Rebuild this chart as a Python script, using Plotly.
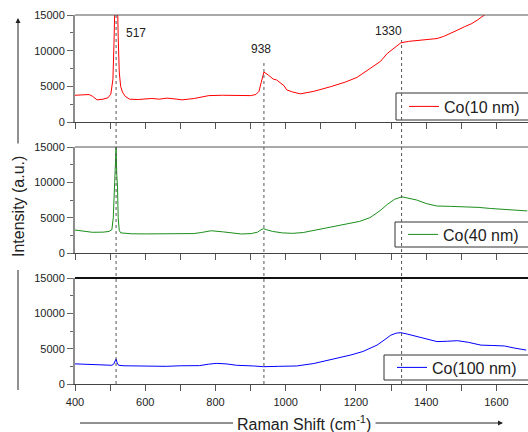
import plotly.graph_objects as go

# ---------------- data ----------------
x_10nm = [400, 420, 440, 450, 463, 480, 494, 502, 508, 511, 514, 517, 520, 523, 526, 530, 535, 543,
          555, 580, 600, 619, 640, 662, 690, 705, 740, 781, 820, 860, 900, 915, 924, 930, 938, 950,
          965, 974, 985, 995, 1003, 1020, 1042, 1080, 1128, 1170, 1203, 1242, 1270, 1289, 1310, 1328,
          1350, 1374, 1400, 1431, 1450, 1466, 1490, 1509, 1530, 1546, 1566, 1600, 1650, 1690]
y_10nm = [3750, 3800, 3850, 3600, 3100, 3200, 3400, 3900, 6000, 11000, 18000, 24000, 19000, 12000, 7000,
          5000, 4200, 3600, 3200, 3150, 3200, 3300, 3200, 3350, 3200, 3100, 3300, 3700, 3750, 3700,
          3700, 3850, 4300, 5500, 7000, 6600, 6000, 5900, 5500, 5100, 4500, 4200, 3950, 4300, 4950,
          5600, 6250, 7500, 8500, 9600, 10400, 11100, 11300, 11400, 11500, 11700, 12000, 12400, 12900,
          13350, 13800, 14300, 15000, 16200, 17300, 18200]

x_40nm = [400, 420, 449, 480, 497, 505, 509, 513, 517, 519, 521, 523, 526, 530, 540, 560, 600, 650,
          700, 738, 760, 788, 820, 850, 874, 902, 920, 930, 937, 945, 963, 990, 1020, 1050, 1077,
          1105, 1134, 1160, 1183, 1211, 1240, 1269, 1290, 1310, 1331, 1350, 1373, 1400, 1430, 1470,
          1516, 1550, 1583, 1620, 1650, 1688]
y_40nm = [3250, 3150, 2930, 2950, 3050, 3300, 5000, 10000, 15000, 11000, 9500, 5000, 3200, 2850, 2780,
          2720, 2700, 2680, 2720, 2750, 2900, 3150, 3000, 2800, 2690, 2750, 2950, 3300, 3440, 3300,
          3050, 2850, 2780, 2900, 3150, 3450, 3730, 3950, 4200, 4480, 5000, 6000, 6900, 7600, 7950,
          7750, 7500, 7000, 6650, 6600, 6550, 6450, 6300, 6150, 6050, 5950]

x_100nm = [400, 430, 460, 490, 505, 510, 514, 517, 520, 524, 540, 580, 620, 660, 700, 754, 780, 802,
           830, 860, 909, 937, 980, 1031, 1080, 1128, 1160, 1185, 1220, 1260, 1280, 1299, 1315, 1328,
           1346, 1380, 1410, 1431, 1460, 1489, 1520, 1556, 1590, 1623, 1650, 1685]
y_100nm = [2850, 2800, 2700, 2650, 2650, 2800, 3200, 3550, 3000, 2650, 2580, 2550, 2550, 2500, 2580,
           2600, 2800, 2920, 2850, 2650, 2550, 2450, 2500, 2550, 2900, 3400, 3750, 4100, 4600, 5500,
           6200, 6900, 7200, 7260, 7070, 6600, 6200, 6000, 6050, 6130, 5900, 5500, 5450, 5380, 5100,
           4800]

series_names = ["Co(10 nm)", "Co(40 nm)", "Co(100 nm)"]
series_colors = ["#ff0000", "#1a8f1a", "#0000ff"]
peak_positions = [517, 938, 1330]
peak_labels = ["517", "938", "1330"]
x_ticks = [400, 600, 800, 1000, 1200, 1400, 1600]
y_ticks = [0, 5000, 10000, 15000]

# ---------------- figure ----------------
W, H = 528, 432
ML, MR, MT, MB = 75, 0, 15, 48
PW, PH = W - ML - MR, H - MT - MB


def py(p):  # pixel y -> paper y
    return (H - MB - p) / PH


def px(p):  # pixel x -> paper x
    return (p - ML) / PW


FONT = "Liberation Sans, Arial, sans-serif"
domains = [[py(122), py(15)], [py(253), py(147)], [0.0, py(278)]]

fig = go.Figure()
xs = [x_10nm, x_40nm, x_100nm]
ys = [y_10nm, y_40nm, y_100nm]
legends = ["legend", "legend2", "legend3"]
for i in range(3):
    fig.add_trace(go.Scatter(
        x=xs[i], y=ys[i], mode="lines", name=series_names[i],
        line=dict(color=series_colors[i], width=1),
        xaxis="x" if i == 0 else f"x{i+1}",
        yaxis="y" if i == 0 else f"y{i+1}",
        legend=legends[i], showlegend=True,
    ))

layout = dict(
    width=W, height=H,
    margin=dict(l=ML, r=MR, t=MT, b=MB, autoexpand=False),
    paper_bgcolor="white", plot_bgcolor="white",
    font=dict(family=FONT, color="#222", size=11),
)

for i in range(3):
    sfx = "" if i == 0 else str(i + 1)
    layout[f"xaxis{sfx}"] = dict(
        range=[400, 1690], tickvals=x_ticks, showticklabels=(i == 2),
        ticks="outside", ticklen=6, tickcolor="#555", tickwidth=1, ticklabelstandoff=2,
        minor=dict(dtick=100, tick0=400, ticks="outside", ticklen=6, tickcolor="#555"),
        showline=True, linecolor="#444", linewidth=1.2, showgrid=False, zeroline=False,
        anchor="y" + sfx, domain=[0, 1], tickfont=dict(size=11),
    )
    layout[f"yaxis{sfx}"] = dict(
        range=[0, 15000], tickvals=y_ticks, tickformat="d", domain=domains[i],
        ticks="outside", ticklen=6, tickcolor="#666",
        minor=dict(dtick=2500, ticks="outside", ticklen=3, tickcolor="#666"),
        showline=True, linecolor="#8c8c8c", linewidth=2, showgrid=False, zeroline=False,
        anchor="x" + sfx, tickfont=dict(size=11),
    )

# legends (items) + their frames as shapes
boxes = [(396, 93, 120), (395, 222, 247), (384, 355, 380)]
for i, key in enumerate(legends):
    bx, by0, by1 = boxes[i]
    layout[key] = dict(
        x=px(bx + 8), y=py((by0 + by1) / 2), xanchor="left", yanchor="middle",
        bgcolor="rgba(0,0,0,0)", borderwidth=0,
        font=dict(size=16, family=FONT, color="#222"),
    )

fig.update_layout(**layout)

for bx, by0, by1 in boxes:
    fig.add_shape(type="rect", xref="paper", yref="paper", x0=px(bx), x1=px(540),
                  y0=py(by1), y1=py(by0), line=dict(color="#333", width=1),
                  fillcolor="rgba(0,0,0,0)")

# top borders of panels
border_styles = [("#555", 1), ("#555", 1), ("#111", 2)]
for i in range(3):
    fig.add_shape(type="line", xref="paper", yref="paper", x0=0, x1=1,
                  y0=domains[i][1], y1=domains[i][1],
                  line=dict(color=border_styles[i][0], width=border_styles[i][1]))

# dotted peak lines
line_tops = [py(15), py(60), py(40)]
for pk, top in zip(peak_positions, line_tops):
    fig.add_shape(type="line", xref="x", yref="paper", x0=pk, x1=pk, y0=0, y1=top,
                  line=dict(color="#555", width=1, dash="dot"))

# peak labels (top panel)
label_pos = [(574, 12450), (931, 10200), (1294, 12750)]
for (lx, ly), txt in zip(label_pos, peak_labels):
    fig.add_annotation(x=lx, y=ly, xref="x", yref="y", text=txt, showarrow=False,
                       font=dict(size=12, color="#222"))

# y axis title with arrow
fig.add_annotation(x=px(19), y=py(207), xref="paper", yref="paper", text="Intensity (a.u.)",
                   textangle=-90, showarrow=False, xanchor="center", yanchor="middle",
                   font=dict(size=16, color="#222"))
fig.add_shape(type="line", xref="paper", yref="paper", x0=px(18), x1=px(18),
              y0=py(390), y1=py(270), line=dict(color="#222", width=1))
fig.add_annotation(x=px(18), y=py(18), xref="paper", yref="paper", text="",
                   showarrow=True, arrowhead=2, arrowsize=1, arrowwidth=1, arrowcolor="#222",
                   ax=0, ay=127)

# x axis title with arrow
fig.add_annotation(x=px(304), y=py(423), xref="paper", yref="paper",
                   text="Raman Shift (cm<sup>-1</sup>)", showarrow=False,
                   xanchor="center", yanchor="middle",
                   font=dict(size=16, color="#222"))
fig.add_shape(type="line", xref="paper", yref="paper", x0=px(80), x1=px(233),
              y0=py(423), y1=py(423), line=dict(color="#222", width=1))
fig.add_annotation(x=px(503), y=py(423), xref="paper", yref="paper", text="",
                   showarrow=True, arrowhead=2, arrowsize=1, arrowwidth=1, arrowcolor="#222",
                   ax=-129, ay=0)

fig.write_html(
    "out.html",
    config={"displayModeBar": False},
    post_script="document.body.style.margin='0';document.body.style.overflow='hidden';",
)
